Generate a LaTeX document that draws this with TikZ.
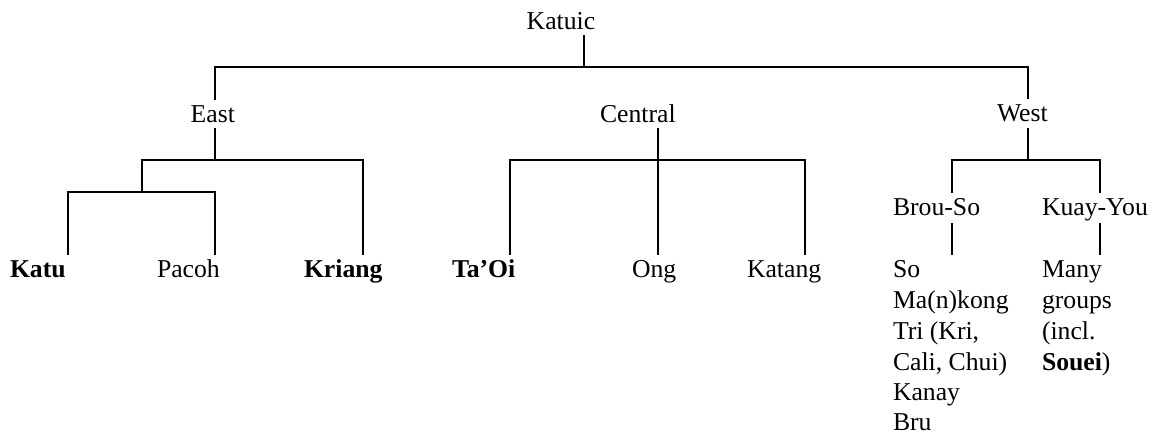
\documentclass[tikz,border=0pt]{standalone}
\usepackage{fontspec}
\setmainfont{Liberation Serif}
\begin{document}
\begin{tikzpicture}[x=1pt,y=-1pt,
  lbl/.style={anchor=base west,inner sep=0pt,outer sep=0pt,font=\fontsize{25.7}{30.6}\selectfont},
  blbl/.style={lbl,font=\fontsize{25.7}{30.6}\selectfont\bfseries},
  branch/.style={draw=black,line width=2pt,line join=miter,line cap=rect}]
\useasboundingbox (0,0) rectangle (1161,435);
% texts
\node[lbl] (katuic) at (526.7,29.3) {Katuic};
\node[lbl] (east) at (190.7,122.3) {East};
\node[lbl] (central) at (600,123) {Central};
\node[lbl] (west) at (997,122) {West};
\node[blbl] (katu) at (10,278) {Katu};
\node[lbl] (pacoh) at (157,278) {Pacoh};
\node[blbl] (kriang) at (304,278) {Kriang};
\node[blbl] (taoi) at (452,278) {Ta’Oi};
\node[lbl] (ong) at (632,278) {Ong};
\node[lbl] (katang) at (747,278) {Katang};
\node[lbl] (brouso) at (893,216) {Brou-So};
\node[lbl] (kuayyou) at (1042,216) {Kuay-You};
\node[lbl] (l1) at (893,277.7) {So};
\node[lbl] (l2) at (893,308.3) {Ma(n)kong};
\node[lbl] (l3) at (893,339.3) {Tri (Kri,};
\node[lbl] (l4) at (893,370) {Cali, Chui)};
\node[lbl] (l5) at (893,400.3) {Kanay};
\node[lbl] (l6) at (893,430.7) {Bru};
\node[lbl] (r1) at (1042,277.7) {Many};
\node[lbl] (r2) at (1042,308.3) {groups};
\node[lbl] (r3) at (1042,339.3) {(incl.};
\node[lbl] (r4) at (1042,370) {\textbf{Souei})};
% junction coordinates
\coordinate (kTop) at (584,36);
\coordinate (kJ) at (584,66.7);
\coordinate (eTopL) at (215,66.7);
\coordinate (wTopR) at (1028,66.7);
\coordinate (eIn) at (215,99.3);
\coordinate (wIn) at (1028,98.3);
\coordinate (eOut) at (215,129);
\coordinate (eJ) at (215,160);
\coordinate (eL) at (142,160);
\coordinate (eR) at (362.7,160);
\coordinate (eLL) at (142,191.7);
\coordinate (kaT) at (67.7,191.7);
\coordinate (paT) at (215,191.7);
\coordinate (kaB) at (67.7,254);
\coordinate (paB) at (215,254);
\coordinate (krB) at (362.7,254);
\coordinate (cOut) at (658,129.3);
\coordinate (cB) at (658,254);
\coordinate (cL) at (510,160);
\coordinate (cR) at (805,160);
\coordinate (cLB) at (510,254);
\coordinate (cRB) at (805,254);
\coordinate (wOut) at (1028,129);
\coordinate (wJ) at (1028,160);
\coordinate (wL) at (952,160);
\coordinate (wR) at (1100,160);
\coordinate (wLB) at (952,192);
\coordinate (wRB) at (1100,192);
\coordinate (bsT) at (952,224);
\coordinate (bsB) at (952,254);
\coordinate (kyT) at (1100,224);
\coordinate (kyB) at (1100,254);
% connectors
\draw[branch] (kTop) -- (kJ);
\draw[branch] (eIn) -- (eTopL) -- (wTopR) -- (wIn);
\draw[branch] (eOut) -- (eJ);
\draw[branch] (eLL) -- (eL) -- (eR) -- (krB);
\draw[branch] (kaB) -- (kaT) -- (paT) -- (paB);
\draw[branch] (cOut) -- (cB);
\draw[branch] (cLB) -- (cL) -- (cR) -- (cRB);
\draw[branch] (wOut) -- (wJ);
\draw[branch] (wLB) -- (wL) -- (wR) -- (wRB);
\draw[branch] (bsT) -- (bsB);
\draw[branch] (kyT) -- (kyB);
\end{tikzpicture}
\end{document}
